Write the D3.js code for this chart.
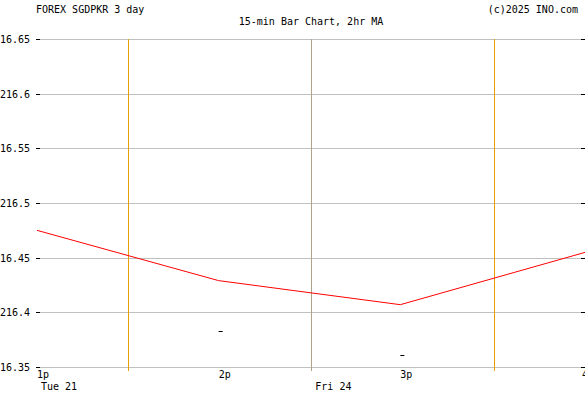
<!DOCTYPE html>
<html>
<head>
<meta charset="utf-8">
<script src="https://cdn.jsdelivr.net/npm/d3@7"></script>
<style>
  body { margin: 0; background: #fff; }
  svg { display: block; }
  text { font-family: "DejaVu Sans Mono", monospace; font-size: 10px; fill: #000; }
</style>
</head>
<body>
<script>
// chart data
const yTicks = [216.35, 216.4, 216.45, 216.5, 216.55, 216.6, 216.65];
const hourTicks = [13, 14, 15, 16];
const hourLabels = ["1p", "2p", "3p", "4p"];
const dayLabels = [{ t: 13, name: "Tue 21" }, { t: 14.51, name: "Fri 24" }];
const sessionLines = [13.5, 15.515];
const dayLines = [14.51];
// 2hr moving average
const maTimes = [13, 14, 15, 16.02];
const maValues = [216.475, 216.429, 216.407, 216.455];
// 15-min bars (open = high = low = close)
const barTimes = [14, 15];
const barValues = [216.383, 216.361];

const width = 585, height = 394;
const m = { left: 37, right: 3, top: 39, bottom: 27 };

const x = d3.scaleLinear().domain([13, 16]).range([m.left, width - m.right]);
const y = d3.scaleLinear().domain([216.35, 216.65]).range([height - m.bottom, m.top]);

const svg = d3.select("body").append("svg")
    .attr("width", width)
    .attr("height", height);

// horizontal grid
svg.append("g")
    .selectAll("line")
    .data(yTicks)
    .join("line")
    .attr("x1", m.left + 3)
    .attr("x2", width - 4)
    .attr("y1", d => Math.round(y(d)) + 0.5)
    .attr("y2", d => Math.round(y(d)) + 0.5)
    .attr("stroke", "#c0c0c0");

// vertical markers
svg.append("g")
    .selectAll("line")
    .data(sessionLines)
    .join("line")
    .attr("x1", d => Math.round(x(d)) + 0.5)
    .attr("x2", d => Math.round(x(d)) + 0.5)
    .attr("y1", m.top)
    .attr("y2", height - m.bottom + 4)
    .attr("stroke", "#e8a000");

svg.append("g")
    .selectAll("line")
    .data(dayLines)
    .join("line")
    .attr("x1", d => Math.round(x(d)) + 0.5)
    .attr("x2", d => Math.round(x(d)) + 0.5)
    .attr("y1", m.top)
    .attr("y2", height - m.bottom + 4)
    .attr("stroke", "#b0a488");

// y ticks both sides
const yt = svg.append("g");
yt.selectAll(".tl")
    .data(yTicks)
    .join("line")
    .attr("x1", m.left - 1)
    .attr("x2", m.left + 3)
    .attr("y1", d => Math.round(y(d)) + 0.5)
    .attr("y2", d => Math.round(y(d)) + 0.5)
    .attr("stroke", "#000");
yt.selectAll(".tr")
    .data(yTicks)
    .join("line")
    .attr("x1", width - 4)
    .attr("x2", width)
    .attr("y1", d => Math.round(y(d)) + 0.5)
    .attr("y2", d => Math.round(y(d)) + 0.5)
    .attr("stroke", "#000");
yt.selectAll("text")
    .data(yTicks)
    .join("text")
    .attr("x", 30)
    .attr("y", d => y(d) + 4)
    .attr("text-anchor", "end")
    .text(d => d3.format("")(d));

// x labels
svg.append("g")
    .selectAll("text")
    .data(hourTicks)
    .join("text")
    .attr("x", d => x(d))
    .attr("y", height - m.bottom + 11)
    .text((d, i) => hourLabels[i]);

svg.append("g")
    .selectAll("text")
    .data(dayLabels)
    .join("text")
    .attr("x", d => x(d.t) + 4)
    .attr("y", height - 4)
    .text(d => d.name);

// bars
svg.append("g")
    .selectAll("line")
    .data(barTimes)
    .join("line")
    .attr("x1", d => x(d))
    .attr("x2", d => x(d) + 4)
    .attr("y1", (d, i) => Math.round(y(barValues[i])) + 0.5)
    .attr("y2", (d, i) => Math.round(y(barValues[i])) + 0.5)
    .attr("stroke", "#000");

// moving average
const line = d3.line()
    .x((d, i) => x(maTimes[i]))
    .y(d => y(d));
svg.append("path")
    .datum(maValues)
    .attr("d", line)
    .attr("fill", "none")
    .attr("stroke", "#ff0000")
    .attr("stroke-width", 1);

// titles
svg.append("text").attr("x", 36).attr("y", 13).text("FOREX SGDPKR 3 day");
svg.append("text").attr("x", 311).attr("y", 25).attr("text-anchor", "middle").text("15-min Bar Chart, 2hr MA");
svg.append("text").attr("x", 578).attr("y", 13).attr("text-anchor", "end").text("(c)2025 INO.com");
</script>
</body>
</html>
